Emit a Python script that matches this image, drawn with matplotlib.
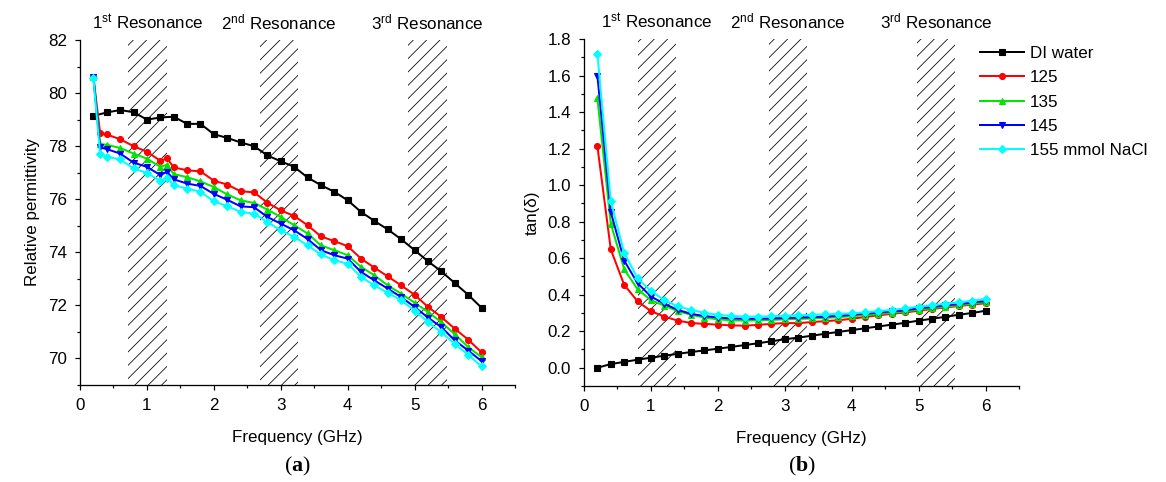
import matplotlib
matplotlib.use('Agg')
import matplotlib.pyplot as plt
from matplotlib.ticker import MultipleLocator, FormatStrFormatter

# ---------------- data ----------------
freq = [0.2, 0.4, 0.6, 0.8, 1.0, 1.2, 1.4, 1.6, 1.8, 2.0, 2.2, 2.4, 2.6, 2.8, 3.0,
        3.2, 3.4, 3.6, 3.8, 4.0, 4.2, 4.4, 4.6, 4.8, 5.0, 5.2, 5.4, 5.6, 5.8, 6.0]
freq_salt_eps = [0.2, 0.3, 0.4, 0.6, 0.8, 1.0, 1.2, 1.3, 1.4, 1.6, 1.8, 2.0, 2.2, 2.4, 2.6, 2.8,
                 3.0, 3.2, 3.4, 3.6, 3.8, 4.0, 4.2, 4.4, 4.6, 4.8, 5.0, 5.2, 5.4, 5.6, 5.8, 6.0]

labels = ['DI water', '125', '135', '145', '155 mmol NaCl']

eps_water = [79.14, 79.27, 79.36, 79.28, 79.0, 79.08, 79.11, 78.84, 78.84, 78.45, 78.31, 78.14,
             78.0, 77.65, 77.43, 77.22, 76.82, 76.53, 76.28, 75.96, 75.52, 75.18, 74.86, 74.49,
             74.08, 73.66, 73.28, 72.84, 72.4, 71.91]
eps_125 = [80.6, 78.5, 78.44, 78.26, 78.0, 77.79, 77.45, 77.54, 77.2, 77.09, 77.05, 76.7, 76.55,
           76.3, 76.26, 75.87, 75.58, 75.37, 75.02, 74.6, 74.42, 74.23, 73.76, 73.42, 73.09,
           72.75, 72.4, 71.94, 71.56, 71.12, 70.71, 70.23]
eps_135 = [80.6, 78.08, 78.05, 77.93, 77.72, 77.53, 77.22, 77.3, 76.95, 76.83, 76.67, 76.46,
           76.18, 75.96, 75.86, 75.61, 75.33, 75.02, 74.71, 74.26, 74.08, 73.89, 73.45, 73.13,
           72.75, 72.44, 72.1, 71.75, 71.37, 70.91, 70.43, 70.05]
eps_145 = [80.6, 77.95, 77.89, 77.72, 77.38, 77.22, 76.91, 77.03, 76.75, 76.59, 76.5, 76.2,
           75.98, 75.73, 75.7, 75.33, 75.08, 74.83, 74.5, 74.08, 73.89, 73.76, 73.26, 72.94,
           72.63, 72.31, 71.94, 71.54, 71.18, 70.68, 70.3, 69.9]
eps_155 = [80.55, 77.72, 77.6, 77.5, 77.16, 76.99, 76.69, 76.8, 76.53, 76.4, 76.28, 75.92,
           75.74, 75.52, 75.46, 75.14, 74.83, 74.58, 74.26, 73.92, 73.7, 73.57, 73.07, 72.75,
           72.47, 72.19, 71.8, 71.37, 70.99, 70.55, 70.14, 69.7]

tan_water = [0.0, 0.02, 0.032, 0.044, 0.055, 0.066, 0.076, 0.086, 0.095, 0.104, 0.114, 0.124,
             0.134, 0.145, 0.156, 0.165, 0.175, 0.186, 0.196, 0.206, 0.216, 0.226, 0.236,
             0.246, 0.258, 0.268, 0.279, 0.29, 0.30, 0.312]
tan_125 = [1.213, 0.648, 0.454, 0.364, 0.31, 0.28, 0.258, 0.245, 0.24, 0.236, 0.232, 0.23,
           0.235, 0.24, 0.245, 0.244, 0.25, 0.255, 0.26, 0.268, 0.278, 0.287, 0.295, 0.303,
           0.312, 0.322, 0.33, 0.338, 0.346, 0.353]
tan_135 = [1.475, 0.789, 0.54, 0.43, 0.37, 0.34, 0.31, 0.29, 0.275, 0.265, 0.26, 0.258, 0.26,
           0.262, 0.265, 0.267, 0.27, 0.273, 0.277, 0.282, 0.288, 0.294, 0.3, 0.308, 0.318,
           0.326, 0.334, 0.342, 0.35, 0.36]
tan_145 = [1.60, 0.853, 0.587, 0.463, 0.39, 0.35, 0.317, 0.295, 0.283, 0.275, 0.27, 0.268,
           0.268, 0.27, 0.272, 0.274, 0.277, 0.28, 0.284, 0.29, 0.296, 0.302, 0.308, 0.315,
           0.325, 0.333, 0.341, 0.349, 0.357, 0.366]
tan_155 = [1.72, 0.911, 0.63, 0.49, 0.42, 0.37, 0.336, 0.317, 0.3, 0.29, 0.284, 0.28, 0.28,
           0.282, 0.285, 0.287, 0.29, 0.292, 0.295, 0.298, 0.303, 0.31, 0.317, 0.325, 0.335,
           0.343, 0.351, 0.358, 0.367, 0.377]

res_labels = [r'1$^{\mathrm{st}}$ Resonance', r'2$^{\mathrm{nd}}$ Resonance', r'3$^{\mathrm{rd}}$ Resonance']
bands_a = [(0.72, 1.30), (2.69, 3.25), (4.90, 5.48)]
bands_b = [(0.80, 1.38), (2.77, 3.33), (4.97, 5.55)]

# ---------------- style ----------------
DPI = 80
W, H = 1166, 482
PT = 72.0 / DPI  # points per pixel

plt.rcParams['font.family'] = ['Liberation Sans', 'DejaVu Sans']
plt.rcParams['mathtext.fontset'] = 'custom'
plt.rcParams['mathtext.rm'] = 'Liberation Sans'
plt.rcParams['mathtext.it'] = 'Liberation Sans:italic'
plt.rcParams['mathtext.bf'] = 'Liberation Serif:bold'
plt.rcParams['hatch.linewidth'] = 0.7

FS = 17 * PT

colors = ['black', '#ff0000', '#00e600', '#0000ff', '#00ffff']
markers = ['s', 'o', '^', 'v', 'D']
msizes = [5.5, 6, 6, 6, 5]

fig = plt.figure(figsize=(W / DPI, H / DPI), dpi=DPI)


def px_axes(x0, x1, ytop, ybot):
    return fig.add_axes([x0 / W, 1 - ybot / H, (x1 - x0) / W, (ybot - ytop) / H])


ax1 = px_axes(80, 515, 40, 385)
ax2 = px_axes(584, 1019, 39, 386)


def style(ax):
    for s in ['top', 'right']:
        ax.spines[s].set_visible(False)
    for s in ['left', 'bottom']:
        ax.spines[s].set_linewidth(1.3 * PT)
    ax.tick_params(which='major', direction='out', length=5 * PT, width=1.2 * PT,
                   labelsize=FS, pad=8 * PT)
    ax.tick_params(which='minor', direction='out', length=3 * PT, width=1.2 * PT)
    ax.set_xlim(0, 6.5)
    ax.xaxis.set_major_locator(MultipleLocator(1))
    ax.xaxis.set_minor_locator(MultipleLocator(0.5))
    ax.set_xlabel('Frequency (GHz)', fontsize=FS, labelpad=17 * PT)


def bands(ax, bl):
    for (a, b), lab in zip(bl, res_labels):
        ax.axvspan(a, b, facecolor='none', edgecolor='black', hatch='//', linewidth=0, zorder=0)
        ax.annotate(lab, xy=((a + b) / 2, 1), xycoords=('data', 'axes fraction'),
                    xytext=(0, 11), textcoords='offset pixels', ha='center', va='baseline',
                    fontsize=FS, annotation_clip=False)


# panel (a)
style(ax1)
bands(ax1, bands_a)
eps_series = [eps_water, eps_125, eps_135, eps_145, eps_155]
for i, ys in enumerate(eps_series):
    xs = freq if i == 0 else freq_salt_eps
    ax1.plot(xs, ys, color=colors[i], marker=markers[i], markersize=msizes[i] * PT,
             linewidth=2.0 * PT, label=labels[i], zorder=2 + i)
ax1.set_ylim(69, 82)
ax1.yaxis.set_major_locator(MultipleLocator(2))
ax1.yaxis.set_minor_locator(MultipleLocator(1))
ax1.set_ylabel('Relative permittivity', fontsize=FS, labelpad=8 * PT)

# panel (b)
style(ax2)
bands(ax2, bands_b)
tan_series = [tan_water, tan_125, tan_135, tan_145, tan_155]
handles = []
for i, ys in enumerate(tan_series):
    h, = ax2.plot(freq, ys, color=colors[i], marker=markers[i], markersize=msizes[i] * PT,
                  linewidth=2.0 * PT, label=labels[i], zorder=2 + i)
    handles.append(h)
ax2.set_ylim(-0.1, 1.8)
ax2.yaxis.set_major_locator(MultipleLocator(0.2))
ax2.yaxis.set_minor_locator(MultipleLocator(0.1))
ax2.yaxis.set_major_formatter(FormatStrFormatter('%.1f'))
ax2.set_ylabel('tan(δ)', fontsize=FS, labelpad=8 * PT)

fig.legend(handles=handles, labels=labels, loc='upper left',
           bbox_to_anchor=(980 / W, 1 - 46 / H), bbox_transform=fig.transFigure,
           frameon=False, borderpad=0, borderaxespad=0, handlelength=2.6,
           handletextpad=0.35, labelspacing=0.55, fontsize=FS)

# panel letters
fig.text(297.5 / W, 1 - 466 / H, r'($\mathbf{a}$)', family='Liberation Serif',
         fontsize=22 * PT, ha='center', va='center')
fig.text(801.5 / W, 1 - 466 / H, r'($\mathbf{b}$)', family='Liberation Serif',
         fontsize=22 * PT, ha='center', va='center')

fig.savefig('out.png', dpi=DPI)
